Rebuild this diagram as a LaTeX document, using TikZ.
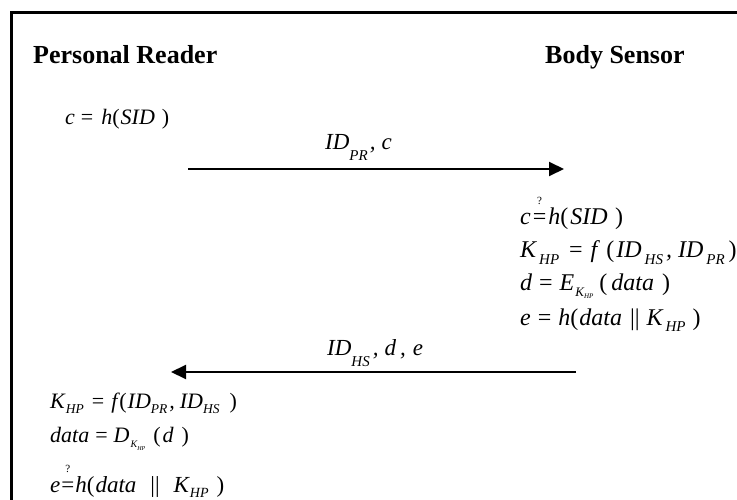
\documentclass[tikz,border=0pt]{standalone}
\usepackage{fontspec}
\setmainfont{Liberation Serif}
\usetikzlibrary{arrows.meta}
\newcommand{\sbx}[3][-5pt]{\raisebox{#1}{\fontsize{#2}{#2}\selectfont #3}}
\newcommand{\hs}[1]{\hspace*{#1pt}}
\newcommand{\qeq}{{\ooalign{\textup{=}\cr\hidewidth\raisebox{20pt}{\fontsize{11}{11}\selectfont\upshape ?}\hidewidth\cr}}}
\newcommand{\eqs}{\textup{=}}
\newcommand{\lp}{\textup{(}}
\newcommand{\rp}{\textup{)}}
\newcommand{\bars}{\textup{||}}
\tikzset{
  title/.style={font=\fontsize{26}{28}\selectfont\bfseries, anchor=base west, inner sep=0pt},
  eqL/.style={font=\fontsize{22}{24}\selectfont\itshape, anchor=base west, inner sep=0pt},
  eqR/.style={font=\fontsize{24}{26}\selectfont\itshape, anchor=base west, inner sep=0pt},
  lbl/.style={font=\fontsize{23}{25}\selectfont\itshape, anchor=base west, inner sep=0pt},
  msg/.style={line width=2pt, -{Triangle[length=15pt,width=14pt]}}
}
\begin{document}
\begin{tikzpicture}[x=1pt,y=-1pt]
\useasboundingbox (0,0) rectangle (737,500);
\clip (0,0) rectangle (737,500);
\fill[white] (0,0) rectangle (737,500);
\draw[line width=3pt] (11.5,12.5) rectangle (780,540);
% titles
\node[title] (pr) at (33,64) {Personal Reader};
\node[title] (bs) at (545,64) {Body Sensor};
% reader step 1
\node[eqL] (r1) at (65,125) {c\hs{6}\eqs\hs{8}h\lp\hs{1}SID\hs{7}\rp};
% message 1
\coordinate (m1s) at (188,169);
\coordinate (m1e) at (564,169);
\draw[msg] (m1s) -- (m1e);
\node[lbl] (l1) at (325,150) {ID\sbx[-11pt]{15}{PR}\hs{2},\hs{6}c};
% sensor steps
\node[eqR] (s1) at (520,225) {c\hs{2}\qeq\hs{2}h\lp\hs{2}SID\hs{7.5}\rp};
\node[eqR] (s2) at (520,258) {K\hs{3}\sbx[-6pt]{15}{HP}\hs{10}\eqs\hs{8}f\hs{9}\lp\hs{2}ID\hs{3}\sbx[-6pt]{15}{HS}\hs{3},\hs{6}ID\hs{3}\sbx[-6pt]{15}{PR}\hs{4}\rp};
\node[eqR] (s3) at (520,290) {d\hs{7}\eqs\hs{7}E\hs{1}\sbx[-6pt]{13}{K\sbx[-3pt]{7}{HP}}\hs{6}\lp\hs{4}data\hs{8}\rp};
\node[eqR] (s4) at (520,325) {e\hs{7}\eqs\hs{7}h\lp\hs{1}data\hs{8}\bars\hs{7}K\hs{3}\sbx[-6pt]{15}{HP}\hs{7}\rp};
% message 2
\coordinate (m2s) at (576,372);
\coordinate (m2e) at (171,372);
\draw[msg] (m2s) -- (m2e);
\node[lbl] (l2) at (327,355) {ID\sbx[-11pt]{15}{HS}\hs{3},\hs{6}d\hs{4},\hs{7}e};
% reader steps
\node[eqL] (p1) at (50,408) {K\hs{1}\sbx{13.5}{HP}\hs{8}\eqs\hs{7}f\hs{2}\lp\hs{1}ID\sbx{13.5}{PR}\hs{2},\hs{5}ID\sbx{13.5}{HS}\hs{10}\rp};
\node[eqL] (p2) at (50,442) {data\hs{6}\eqs\hs{6}D\hs{1}\sbx{10}{K\sbx[-3pt]{6}{HP}}\hs{8}\lp\hs{2}d\hs{8}\rp};
\node[eqL,font=\fontsize{23}{25}\selectfont\itshape] (p3) at (50,492) {e\hs{1}\qeq\hs{1}h\lp\hs{1}data\hs{14}\bars\hs{14}K\hs{1}\sbx{14}{HP}\hs{8}\rp};
\end{tikzpicture}
\end{document}
